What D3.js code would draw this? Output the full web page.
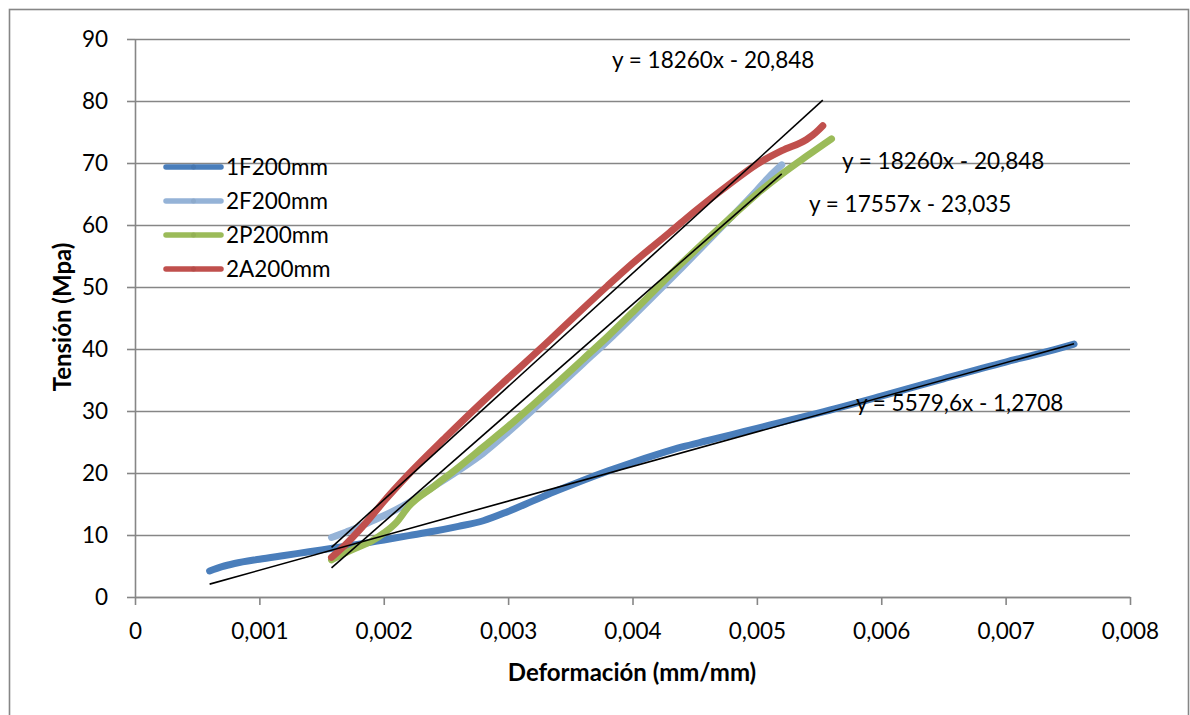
<!DOCTYPE html>
<html>
<head>
<meta charset="utf-8">
<script src="https://cdn.jsdelivr.net/npm/d3@7"></script>
<style>
  body { margin: 0; background: #fff; }
  text { font-family: Lato, "Open Sans", sans-serif; fill: #000; }
</style>
</head>
<body>
<svg id="chart" width="1190" height="715"></svg>
<script>
// ---- data -------------------------------------------------------------
const seriesNames = ["1F200mm", "2F200mm", "2P200mm", "2A200mm"];

const strain1F = [0.0006, 0.0007, 0.0008, 0.001, 0.0012, 0.0014, 0.0016, 0.0018, 0.002, 0.0022,
  0.0024, 0.0026, 0.0028, 0.003, 0.0032, 0.0034, 0.0036, 0.0038, 0.004, 0.0042, 0.0044, 0.0046,
  0.0048, 0.005, 0.0052, 0.0055, 0.006, 0.0065, 0.007, 0.0073, 0.00755];
const stress1F = [4.2, 4.9, 5.4, 6.1, 6.7, 7.3, 7.9, 8.5, 9.2, 9.9,
  10.6, 11.4, 12.3, 13.8, 15.5, 17.2, 18.8, 20.3, 21.7, 23.0, 24.2, 25.2,
  26.2, 27.2, 28.2, 29.7, 32.4, 35.2, 37.9, 39.4, 40.8];

const strain2F = [0.00158, 0.0017, 0.0018, 0.0019, 0.002, 0.0021, 0.0022, 0.0024, 0.0026, 0.0028,
  0.003, 0.0032, 0.0034, 0.0036, 0.0038, 0.004, 0.0042, 0.0044, 0.0046, 0.0048, 0.005, 0.0051, 0.0052];
const stress2F = [9.6, 10.5, 11.3, 12.2, 13.1, 14.1, 15.2, 17.8, 20.4, 23.2,
  26.6, 30.2, 33.9, 37.6, 41.3, 45.2, 49.2, 53.2, 57.3, 61.4, 65.6, 67.8, 69.7];

const strain2P = [0.00158, 0.0017, 0.0018, 0.0019, 0.002, 0.0021, 0.0022, 0.0024, 0.0026, 0.0028,
  0.003, 0.0032, 0.0034, 0.0036, 0.0038, 0.004, 0.0042, 0.0044, 0.0046, 0.0048, 0.005, 0.0052, 0.0054, 0.0056];
const stress2P = [6.0, 7.2, 8.1, 9.0, 10.3, 12.0, 14.6, 17.8, 20.9, 24.2,
  27.5, 31.0, 34.6, 38.3, 42.0, 45.9, 49.9, 53.9, 57.7, 61.4, 65.0, 68.2, 71.1, 73.9];

const strain2A = [0.00158, 0.0017, 0.0018, 0.0019, 0.002, 0.0022, 0.0025, 0.0028, 0.003, 0.0033,
  0.0035, 0.0038, 0.004, 0.0043, 0.0045, 0.0048, 0.005, 0.0052, 0.0054, 0.00545, 0.0055, 0.00553];
const stress2A = [6.4, 8.6, 10.7, 13.0, 15.4, 19.8, 25.8, 31.6, 35.3, 40.8,
  44.6, 50.2, 53.8, 58.8, 62.2, 66.9, 69.8, 72.0, 73.8, 74.5, 75.4, 76.0];

// linear trend lines: slope, intercept, strain range
const trendSlopes = [5579.6, 17557, 18260];
const trendIntercepts = [-1.2708, -23.035, -20.848];
const trendFrom = [0.0006, 0.00158, 0.00158];
const trendTo = [0.00755, 0.0052, 0.00553];

const equationLabels = ["y = 18260x - 20,848", "y = 18260x - 20,848", "y = 17557x - 23,035", "y = 5579,6x - 1,2708"];

const xTickValues = [0, 0.001, 0.002, 0.003, 0.004, 0.005, 0.006, 0.007, 0.008];
const xTickLabels = ["0", "0,001", "0,002", "0,003", "0,004", "0,005", "0,006", "0,007", "0,008"];
const yTickValues = [0, 10, 20, 30, 40, 50, 60, 70, 80, 90];
const yTickLabels = ["0", "10", "20", "30", "40", "50", "60", "70", "80", "90"];

const xTitle = "Deformación (mm/mm)";
const yTitle = "Tensión (Mpa)";

// ---- layout / style ---------------------------------------------------
const colors = ["#4a7ebb", "#95b3d7", "#9bbb59", "#c0504d"];
const gridColor = "#868686";
const plot = { left: 135, right: 1130, top: 39, bottom: 597 };
const equationPos = [[612, 68], [842, 169], [809, 212], [856, 411]];
const labelSize = 22.5;
const titleSize = 24;

const svg = d3.select("#chart");

// outer chart frame
svg.append("rect")
  .attr("x", 9.5).attr("y", 9.5)
  .attr("width", 1179).attr("height", 720)
  .attr("fill", "none").attr("stroke", gridColor).attr("stroke-width", 1.6);

const x = d3.scaleLinear().domain([0, 0.008]).range([plot.left, plot.right]);
const y = d3.scaleLinear().domain([0, 90]).range([plot.bottom, plot.top]);

// horizontal gridlines
svg.append("g")
  .attr("transform", `translate(${plot.left},0)`)
  .call(d3.axisLeft(y).tickValues(yTickValues).tickSize(-(plot.right - plot.left)).tickFormat(""))
  .call(g => g.select(".domain").remove())
  .call(g => g.selectAll("line").attr("stroke", gridColor).attr("stroke-width", 1.6));

// y axis
svg.append("g")
  .attr("transform", `translate(${plot.left},0)`)
  .call(d3.axisLeft(y).tickValues(yTickValues).tickSizeInner(8).tickSizeOuter(0).tickPadding(19)
    .tickFormat((d, i) => yTickLabels[i]))
  .call(g => g.select(".domain").attr("stroke", gridColor).attr("stroke-width", 1.6))
  .call(g => g.selectAll("line").attr("stroke", gridColor).attr("stroke-width", 1.6))
  .call(g => g.selectAll("text").attr("font-size", labelSize).attr("font-family", "Lato, sans-serif").attr("fill", "#000"));

// x axis
svg.append("g")
  .attr("transform", `translate(0,${plot.bottom})`)
  .call(d3.axisBottom(x).tickValues(xTickValues).tickSizeInner(8).tickSizeOuter(0).tickPadding(18)
    .tickFormat((d, i) => xTickLabels[i]))
  .call(g => g.select(".domain").attr("stroke", gridColor).attr("stroke-width", 1.6))
  .call(g => g.selectAll("line").attr("stroke", gridColor).attr("stroke-width", 1.6))
  .call(g => g.selectAll("text").attr("font-size", labelSize).attr("font-family", "Lato, sans-serif").attr("fill", "#000"));

// axis titles
svg.append("text")
  .attr("x", 632).attr("y", 681)
  .attr("text-anchor", "middle").attr("font-size", titleSize).attr("font-weight", "bold")
  .text(xTitle);

svg.append("text")
  .attr("transform", `translate(71,317) rotate(-90)`)
  .attr("text-anchor", "middle").attr("font-size", titleSize).attr("font-weight", "bold")
  .text(yTitle);

// data series
const series = [
  { name: seriesNames[0], xs: strain1F, ys: stress1F },
  { name: seriesNames[1], xs: strain2F, ys: stress2F },
  { name: seriesNames[2], xs: strain2P, ys: stress2P },
  { name: seriesNames[3], xs: strain2A, ys: stress2A }
];

const line = d3.line().curve(d3.curveMonotoneX);

series.forEach((s, i) => {
  const pts = s.xs.map((v, k) => [x(v), y(s.ys[k])]);
  svg.append("path")
    .attr("d", line(pts))
    .attr("fill", "none")
    .attr("stroke", colors[i])
    .attr("stroke-width", 7)
    .attr("stroke-linecap", "round")
    .attr("stroke-linejoin", "round");
});

// trend lines
trendSlopes.forEach((m, i) => {
  const a = trendFrom[i], b = trendTo[i];
  svg.append("line")
    .attr("x1", x(a)).attr("y1", y(m * a + trendIntercepts[i]))
    .attr("x2", x(b)).attr("y2", y(m * b + trendIntercepts[i]))
    .attr("stroke", "#000").attr("stroke-width", 1.6);
});

// trend equations
equationLabels.forEach((t, i) => {
  svg.append("text")
    .attr("x", equationPos[i][0]).attr("y", equationPos[i][1])
    .attr("font-size", labelSize)
    .text(t);
});

// legend
const legend = svg.append("g").attr("transform", "translate(166,167)");
seriesNames.forEach((n, i) => {
  const g = legend.append("g").attr("transform", `translate(0,${i * 34})`);
  g.append("line").attr("x1", 0).attr("x2", 55).attr("y1", 0).attr("y2", 0)
    .attr("stroke", colors[i]).attr("stroke-width", 5.5).attr("stroke-linecap", "round");
  g.append("circle").attr("cx", 27.5).attr("cy", 0).attr("r", 2.5)
    .attr("fill", d3.color(colors[i]).darker(0.15));
  g.append("text").attr("x", 60).attr("y", 8).attr("font-size", labelSize).text(n);
});
</script>
</body>
</html>
